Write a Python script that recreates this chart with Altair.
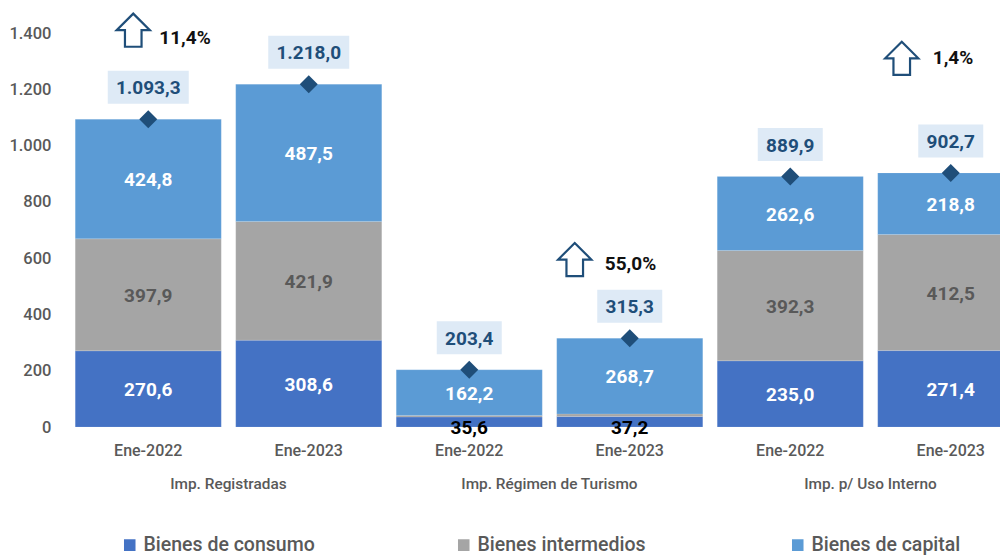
import altair as alt
import pandas as pd

groups = ["Imp. Registradas", "Imp. Régimen de Turismo", "Imp. p/ Uso Interno"]
periods = ["Ene-2022", "Ene-2023"]
consumo = [270.6, 308.6, 35.6, 37.2, 235.0, 271.4]
intermedios = [397.9, 421.9, 5.6, 9.4, 392.3, 412.5]
capital = [424.8, 487.5, 162.2, 268.7, 262.6, 218.8]
totales = [1093.3, 1218.0, 203.4, 315.3, 889.9, 902.7]
series = ["Bienes de consumo", "Bienes intermedios", "Bienes de capital"]
colores = ["#4472C4", "#A5A5A5", "#5B9BD5"]
variaciones = ["11,4%", "55,0%", "1,4%"]
var_cat = [0, 3, 5]
var_y = [1410, 595, 1310]
var_text_y = [1381, 580, 1310]
var_arrow_dx = [-15, -55, -49]
var_text_dx = [11, -25, -18]

FONT = "Roboto"
DARK = "#1F4E79"
GREY = "#595959"
cats = [f"{g}|{p}" for g in groups for p in periods]


def es(v):
    s = f"{v:,.1f}"
    return s.replace(",", "#").replace(".", ",").replace("#", ".")


rows = []
for i, c in enumerate(cats):
    base = 0
    for s, vals in zip(series, [consumo, intermedios, capital]):
        v = vals[i]
        rows.append(dict(cat=c, serie=s, v0=base, v1=base + v, mid=base + v / 2, label=es(v), value=v))
        base += v
df = pd.DataFrame(rows)
tot = pd.DataFrame(dict(cat=cats, total=totales, label=[es(v) for v in totales]))

x_scale = alt.Scale(domain=cats, range=[0, 963], paddingInner=0.09, paddingOuter=0.045)
x_enc = alt.X("cat:N", scale=x_scale, sort=cats, title=None,
              axis=alt.Axis(labelExpr="split(datum.value,'|')[1]", labelAngle=0, labelFont=FONT,
                            labelFontSize=16, labelColor=GREY, labelPadding=15, ticks=False,
                            domain=False, grid=False, labelFontWeight=500))
y_scale = alt.Scale(domain=[0, 1400], nice=False)
y_enc = alt.Y("v0:Q", scale=y_scale, title=None,
              axis=alt.Axis(values=list(range(0, 1401, 200)), ticks=False, domain=False, grid=False,
                            labelExpr="replace(format(datum.value,','),',','.')", labelFont=FONT,
                            labelFontSize=16.5, labelColor=GREY, labelPadding=17, labelFontWeight=500))

bars = alt.Chart(df).mark_bar(clip=True, stroke="#FFFFFF", strokeOpacity=0.25, strokeWidth=0.5).encode(
    x=x_enc, y=y_enc, y2="v1:Q",
    color=alt.Color("serie:N", scale=alt.Scale(domain=series, range=colores), sort=series, title=None,
                    legend=alt.Legend(orient="none", legendX=52, legendY=502, direction="horizontal",
                                      columns=3, gridAlign="all", columnPadding=139, symbolType="square",
                                      symbolSize=170, labelFont=FONT, labelFontSize=19.5, labelColor=GREY,
                                      labelLimit=300, symbolOffset=0, labelOffset=4, padding=0,
                                      labelFontWeight=500)),
)

big = df[df["value"] > 100]
x_plain = alt.X("cat:N", scale=x_scale, sort=cats, title=None)
y_mid = alt.Y("mid:Q", scale=y_scale, title=None)
txt_kw = dict(font=FONT, fontWeight="bold", fontSize=19)
lab_white = alt.Chart(big[big.serie != series[1]]).mark_text(color="#FFFFFF", dy=1, **txt_kw).encode(x=x_plain, y=y_mid, text="label:N")
lab_grey = alt.Chart(big[big.serie == series[1]]).mark_text(color=GREY, dy=1, **txt_kw).encode(x=x_plain, y=y_mid, text="label:N")
small = df[(df["value"] < 100) & (df.serie == series[0])]
lab_black = alt.Chart(small).mark_text(color="#000000", dy=6, **txt_kw).encode(x=x_plain, y=y_mid, text="label:N")

y_tot = alt.Y("total:Q", scale=y_scale, title=None)
wide = tot[tot.total >= 1000]
narrow = tot[tot.total < 1000]
box_w = alt.Chart(wide).mark_rect(color="#DEEAF6", width=81, height=33, yOffset=-32).encode(x=x_plain, y=y_tot)
box_n = alt.Chart(narrow).mark_rect(color="#DEEAF6", width=65, height=33, yOffset=-32).encode(x=x_plain, y=y_tot)
tot_txt = alt.Chart(tot).mark_text(color=DARK, dy=-31, **txt_kw).encode(x=x_plain, y=y_tot, text="label:N")
diamonds = alt.Chart(tot).mark_point(shape="diamond", filled=True, fill=DARK, opacity=1, size=324, clip=True).encode(x=x_plain, y=y_tot)

ARROW = "M0,-1 L1,0 L0.5,0 L0.5,1 L-0.5,1 L-0.5,0 L-1,0 Z"
layers = [bars, lab_white, lab_grey, lab_black, box_w, box_n, tot_txt, diamonds]
for i in range(3):
    d = pd.DataFrame(dict(cat=[cats[var_cat[i]]], y=[var_y[i]], ty=[var_text_y[i]], label=[variaciones[i]]))
    layers.append(alt.Chart(d).mark_point(shape=ARROW, filled=True, fill="#FFFFFF", stroke=DARK, strokeWidth=2.2,
                                          opacity=1, size=1100, xOffset=var_arrow_dx[i]).encode(
        x=x_plain, y=alt.Y("y:Q", scale=y_scale, title=None)))
    layers.append(alt.Chart(d).mark_text(color="#111111", align="left", dx=var_text_dx[i], font=FONT,
                                         fontWeight="bold", fontSize=19).encode(
        x=x_plain, y=alt.Y("ty:Q", scale=y_scale, title=None), text="label:N"))

g = pd.DataFrame(dict(cat=[cats[0], cats[2], cats[4]], g=groups))
layers.append(alt.Chart(g).mark_text(color=GREY, dx=80.2, font=FONT, fontWeight=500, fontSize=15.4).encode(
    x=x_plain, y=alt.value(451), text="g:N"))

chart = alt.layer(*layers).resolve_scale(x="shared", y="shared").properties(
    width=932, height=394,
    autosize=alt.AutoSizeParams(type="none"),
    padding={"left": 60, "top": 25, "right": 0, "bottom": 129},
    background="#FFFFFF",
).configure_view(stroke=None)

chart.save("out.html", embed_options={"renderer": "svg", "actions": False})
